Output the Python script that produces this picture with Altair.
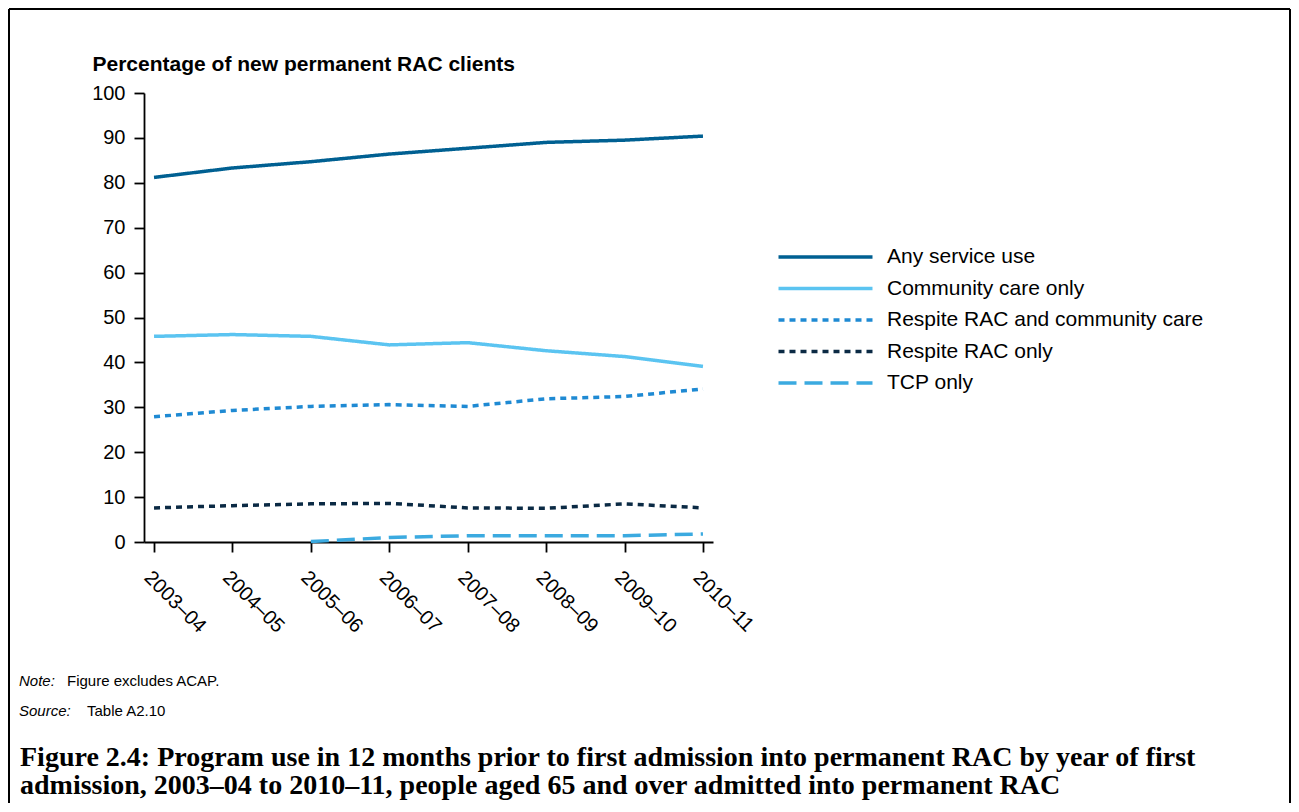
import altair as alt
import pandas as pd

years = ["2003–04", "2004–05", "2005–06", "2006–07", "2007–08", "2008–09", "2009–10", "2010–11"]
series = ["Any service use", "Community care only", "Respite RAC and community care",
          "Respite RAC only", "TCP only"]
any_service = [81.2, 83.3, 84.7, 86.4, 87.7, 89.0, 89.5, 90.4]
community_only = [45.8, 46.2, 45.8, 43.9, 44.4, 42.6, 41.3, 39.1]
respite_and_community = [27.9, 29.3, 30.2, 30.6, 30.2, 31.9, 32.4, 34.1]
respite_only = [7.6, 8.1, 8.5, 8.6, 7.6, 7.5, 8.5, 7.6]
tcp_only = [None, None, 0.1, 1.0, 1.4, 1.4, 1.4, 1.8]

colors = ["#006092", "#5BC4F1", "#1F8AD3", "#0B2A44", "#3BAAE0"]
dashes = [[1, 0], [1, 0], [6, 5], [6, 5], [18, 8]]

y_title = "Percentage of new permanent RAC clients"
note_label, note_text = "Note:", "Figure excludes ACAP."
source_label, source_text = "Source:", "Table A2.10"
caption_lines = [
    "Figure 2.4: Program use in 12 months prior to first admission into permanent RAC by year of first",
    "admission, 2003–04 to 2010–11, people aged 65 and over admitted into permanent RAC",
]

rows = []
for name, vals in zip(series, [any_service, community_only, respite_and_community, respite_only, tcp_only]):
    for yr, v in zip(years, vals):
        rows.append({"year": yr, "series": name, "value": v})
df = pd.DataFrame(rows)

FONT = "Liberation Sans"

legend_opts = dict(title=None, orient="none", legendX=632.5, legendY=153,
                   symbolType="stroke", symbolSize=8836, symbolStrokeWidth=3.5,
                   clipHeight=22, rowPadding=9.5, labelOffset=12.5,
                   labelFontSize=21, labelFont=FONT, labelColor="black",
                   labelLimit=600, padding=0)

lines = alt.Chart(df).mark_line(strokeWidth=3.5).encode(
    x=alt.X("year:O", sort=years,
            scale=alt.Scale(type="point", padding=0.128),
            axis=alt.Axis(title=None, labelAngle=45, labelAlign="left", labelBaseline="top",
                          labelPadding=15, labelFontSize=20, labelFont=FONT, labelColor="black",
                          tickSize=10, tickWidth=1.8, tickColor="black",
                          domainColor="black", domainWidth=1.8, grid=False)),
    y=alt.Y("value:Q", scale=alt.Scale(domain=[0, 100], nice=False),
            axis=alt.Axis(title=y_title, titleAngle=0, titleX=-52, titleY=-23,
                          titleAlign="left", titleBaseline="alphabetic",
                          titleFontSize=21, titleFont=FONT, titleFontWeight="bold", titleColor="black",
                          values=list(range(0, 101, 10)), labelFontSize=20, labelFont=FONT,
                          labelColor="black", labelPadding=9,
                          tickSize=10, tickWidth=1.8, tickColor="black",
                          domainColor="black", domainWidth=1.8, grid=False)),
    color=alt.Color("series:N", sort=series,
                    scale=alt.Scale(domain=series, range=colors),
                    legend=alt.Legend(**legend_opts)),
    strokeDash=alt.StrokeDash("series:N", sort=series,
                              scale=alt.Scale(domain=series, range=dashes),
                              legend=alt.Legend(**legend_opts)),
)

one = alt.Data(values=[{"a": 1}])

frame_top = alt.Chart(one).mark_rule(color="black", strokeWidth=2).encode(
    x=alt.value(-135), x2=alt.value(1146), y=alt.value(-84))
frame_left = alt.Chart(one).mark_rule(color="black", strokeWidth=2).encode(
    x=alt.value(-135), y=alt.value(-84), y2=alt.value(720))
frame_right = alt.Chart(one).mark_rule(color="black", strokeWidth=2).encode(
    x=alt.value(1146), y=alt.value(-84), y2=alt.value(720))


def txt(s, x, y, size, style="normal", weight="normal", font=FONT):
    return alt.Chart(one).mark_text(text=s, align="left", baseline="alphabetic", fontSize=size,
                                    fontStyle=style, fontWeight=weight, font=font,
                                    color="black").encode(x=alt.value(x), y=alt.value(y))


notes = [
    txt(note_label, -125, 593, 15, style="italic"),
    txt(note_text, -77, 593, 15),
    txt(source_label, -125, 623, 15, style="italic"),
    txt(source_text, -57, 623, 15),
    txt(caption_lines[0], -124, 673, 28, weight="bold", font="Liberation Serif"),
    txt(caption_lines[1], -124, 701, 28, weight="bold", font="Liberation Serif"),
]

chart = alt.layer(lines, frame_top, frame_left, frame_right, *notes).properties(
    width=569, height=449,
    autosize=alt.AutoSizeParams(type="none"),
    padding={"left": 136, "top": 85, "right": 578, "bottom": 261},
    background="white",
).configure_view(stroke=None)

chart.save("out.html", embed_options={"renderer": "svg", "actions": False})
